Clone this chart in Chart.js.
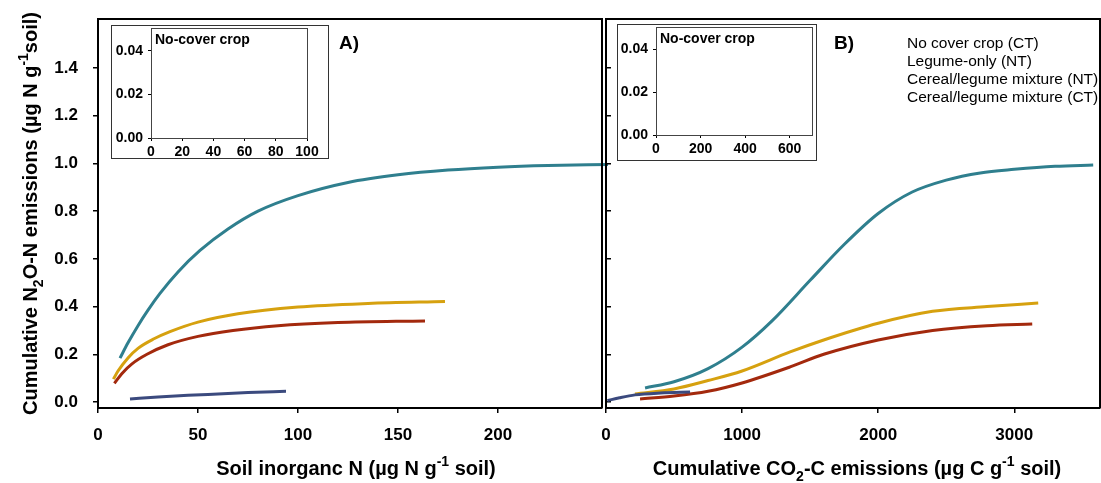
<!DOCTYPE html>
<html>
<head>
  <title>Cumulative N2O-N emissions</title>
  <script src="https://cdn.jsdelivr.net/npm/chart.js"></script>
  <style>
    body { margin: 0; background: #fff; }
    .box { position: absolute; }
    .inset { background: #fff; }
  </style>
</head>
<body>
  <div class="box" style="left:0;top:0;width:612px;height:483px"><canvas id="chartA"></canvas></div>
  <div class="box" style="left:596px;top:0;width:505px;height:483px"><canvas id="chartB"></canvas></div>
  <div class="box inset" style="left:111px;top:25px;width:218px;height:134px"><canvas id="insetA"></canvas></div>
  <div class="box inset" style="left:617px;top:24px;width:200px;height:137px"><canvas id="insetB"></canvas></div>

  <script>
    // tick labels
    const yTicks = [0, 0.2, 0.4, 0.6, 0.8, 1.0, 1.2, 1.4];
    const soilNTicks = [0, 50, 100, 150, 200];
    const co2Ticks = [0, 1000, 2000, 3000];
    const insetYTicks = [0, 0.02, 0.04];
    const insetNTicks = [0, 20, 40, 60, 80, 100];
    const insetCTicks = [0, 200, 400, 600];

    const seriesNames = ['No cover crop (CT)', 'Legume-only (NT)', 'Cereal/legume mixture (NT)', 'Cereal/legume mixture (CT)'];

    // A) N2O vs soil inorganic N
    const noCoverN = [16, 30, 45, 60, 75, 94];
    const noCoverA = [0.013, 0.021, 0.028, 0.034, 0.040, 0.045];
    const legumeN = [11, 15, 20, 25, 31, 40, 51, 65, 80, 100, 125, 150, 175, 200, 225, 255];
    const legumeA = [0.184, 0.248, 0.32, 0.385, 0.455, 0.545, 0.635, 0.725, 0.80, 0.865, 0.92, 0.952, 0.972, 0.984, 0.991, 0.995];
    const mixNtN = [7.7, 10, 15, 20, 28, 36, 50, 70, 100, 135, 173.5];
    const mixNtA = [0.096, 0.13, 0.185, 0.225, 0.265, 0.295, 0.335, 0.37, 0.398, 0.413, 0.421];
    const mixCtN = [8.2, 12, 17, 24.5, 35, 50, 67.5, 90, 120, 163.5];
    const mixCtA = [0.078, 0.12, 0.16, 0.20, 0.24, 0.275, 0.30, 0.32, 0.333, 0.34];

    // B) N2O vs cumulative CO2-C
    const noCoverC = [10, 100, 213, 400, 618];
    const noCoverB = [0.006, 0.018, 0.030, 0.038, 0.042];
    const legumeC = [287, 500, 750, 1000, 1220, 1500, 1750, 2000, 2250, 2500, 2750, 3000, 3300, 3580];
    const legumeB = [0.059, 0.085, 0.14, 0.23, 0.34, 0.51, 0.66, 0.79, 0.88, 0.93, 0.96, 0.975, 0.988, 0.993];
    const mixNtC = [213, 500, 750, 1000, 1353, 1600, 2000, 2400, 2800, 3176];
    const mixNtB = [0.034, 0.055, 0.09, 0.13, 0.21, 0.26, 0.33, 0.38, 0.40, 0.415];
    const mixCtC = [250, 500, 750, 1000, 1353, 1600, 2000, 2400, 2800, 3132];
    const mixCtB = [0.013, 0.025, 0.045, 0.08, 0.147, 0.20, 0.26, 0.30, 0.32, 0.327];

    const colors = ['#3b4a7e', '#2f7f8e', '#d6a10f', '#a3290d'];
    const FONT = 'Arial, "Liberation Sans", sans-serif';

    function pts(xs, ys) {
      return xs.map((x, i) => ({ x: x, y: ys[i] }));
    }

    function line(i, xs, ys) {
      return {
        label: seriesNames[i],
        data: pts(xs, ys),
        borderColor: colors[i],
        borderWidth: 3,
        showLine: true,
        pointRadius: 0,
        cubicInterpolationMode: 'monotone',
        clip: false
      };
    }

    // draws text with sub/superscript pieces, centred on x
    function drawRich(ctx, parts, x, y, size) {
      const small = Math.round(size * 0.72);
      let w = 0;
      parts.forEach(p => {
        ctx.font = 'bold ' + (p[1] ? small : size) + 'px ' + FONT;
        w += ctx.measureText(p[0]).width;
      });
      let cx = x - w / 2;
      ctx.textAlign = 'left';
      ctx.textBaseline = 'alphabetic';
      parts.forEach(p => {
        ctx.font = 'bold ' + (p[1] ? small : size) + 'px ' + FONT;
        let dy = 0;
        if (p[1] === 'sub') dy = size * 0.3;
        if (p[1] === 'sup') dy = -size * 0.45;
        ctx.fillText(p[0], cx, y + dy);
        cx += ctx.measureText(p[0]).width;
      });
    }

    function axes(xMin, xMax, xTicks, yLabels, yTickLen, yWidth, xHeight, size, yDigits) {
      const big = size > 15;
      return {
        x: {
          type: 'linear',
          min: xMin,
          max: xMax,
          afterBuildTicks: s => { s.ticks = xTicks.map(v => ({ value: v })); },
          afterFit: s => { s.height = xHeight; s.paddingLeft = 0; s.paddingRight = 0; },
          border: { display: true, color: '#000', width: big ? 2 : 1 },
          grid: { display: true, drawOnChartArea: false, tickLength: big ? 5 : 3, color: '#000', lineWidth: big ? 1.5 : 1 },
          ticks: {
            color: '#000',
            font: { family: FONT, size: size, weight: 'bold' },
            padding: big ? 12 : 3,
            maxRotation: 0,
            callback: v => String(v)
          }
        },
        y: {
          type: 'linear',
          min: big ? -0.025 : 0,
          max: big ? 1.605 : 0.0505,
          afterBuildTicks: s => { s.ticks = (big ? yTicks : insetYTicks).map(v => ({ value: v })); },
          afterFit: s => { s.width = yWidth; s.paddingTop = 0; s.paddingBottom = 0; },
          border: { display: true, color: '#000', width: big ? 2 : 1 },
          grid: { display: true, drawOnChartArea: false, tickLength: yTickLen, color: '#000', lineWidth: big ? 1.5 : 1 },
          ticks: {
            display: yLabels,
            color: '#000',
            font: { family: FONT, size: size, weight: 'bold' },
            padding: big ? 15 : 5,
            callback: v => v.toFixed(yDigits)
          }
        }
      };
    }

    const framePlugin = {
      id: 'frame',
      afterDraw(chart) {
        const a = chart.chartArea;
        const ctx = chart.ctx;
        ctx.save();
        ctx.strokeStyle = '#000';
        ctx.lineWidth = 2;
        ctx.beginPath();
        ctx.moveTo(a.left, a.top);
        ctx.lineTo(a.right, a.top);
        ctx.lineTo(a.right, a.bottom);
        ctx.stroke();
        ctx.restore();
      }
    };

    const textA = {
      id: 'textA',
      afterDraw(chart) {
        const ctx = chart.ctx;
        const a = chart.chartArea;
        ctx.save();
        ctx.fillStyle = '#000';
        drawRich(ctx, [['Soil inorganc N (\u00b5g N g'], ['-1', 'sup'], [' soil)']], (a.left + a.right) / 2 + 6, 475, 20);
        ctx.translate(37, (a.top + a.bottom) / 2);
        ctx.rotate(-Math.PI / 2);
        drawRich(ctx, [['Cumulative N'], ['2', 'sub'], ['O-N emissions (\u00b5g N g'], ['-1', 'sup'], ['soil)']], 0, 0, 20);
        ctx.restore();
        ctx.save();
        ctx.font = 'bold 19px ' + FONT;
        ctx.textAlign = 'left';
        ctx.textBaseline = 'middle';
        ctx.fillText('A)', 339, 44);
        ctx.restore();
      }
    };

    const textB = {
      id: 'textB',
      afterDraw(chart) {
        const ctx = chart.ctx;
        const a = chart.chartArea;
        ctx.save();
        ctx.fillStyle = '#000';
        drawRich(ctx, [['Cumulative CO'], ['2', 'sub'], ['-C emissions (\u00b5g C g'], ['-1', 'sup'], [' soil)']], (a.left + a.right) / 2 + 4, 475, 20);
        ctx.font = 'bold 19px ' + FONT;
        ctx.textAlign = 'left';
        ctx.textBaseline = 'middle';
        ctx.fillText('B)', 834 - 596, 44);
        ctx.font = '15.5px ' + FONT;
        seriesNames.forEach((n, i) => {
          ctx.fillText(n, 907 - 596, 44 + i * 18);
        });
        ctx.restore();
      }
    };

    const insetPlugin = {
      id: 'insetFrame',
      afterDraw(chart) {
        const ctx = chart.ctx;
        const a = chart.chartArea;
        ctx.save();
        ctx.strokeStyle = '#333';
        ctx.lineWidth = 1;
        ctx.strokeRect(0.5, 0.5, chart.width - 1, chart.height - 1);
        ctx.strokeStyle = '#444';
        ctx.strokeRect(a.left + 0.5, a.top + 0.5, a.right - a.left, a.bottom - a.top);
        ctx.fillStyle = '#000';
        ctx.font = 'bold 14px ' + FONT;
        ctx.textAlign = 'left';
        ctx.textBaseline = 'middle';
        ctx.fillText('No-cover crop', a.left + 4, 15);
        ctx.restore();
      }
    };

    const base = {
      responsive: true,
      maintainAspectRatio: false,
      animation: false,
      events: [],
      plugins: { legend: { display: false }, tooltip: { enabled: false } }
    };

    new Chart(document.getElementById('chartA'), {
      type: 'scatter',
      data: {
        datasets: [
          line(0, noCoverN, noCoverA),
          line(1, legumeN, legumeA),
          line(2, mixNtN, mixNtA),
          line(3, mixCtN, mixCtA)
        ]
      },
      options: Object.assign({}, base, {
        layout: { padding: { top: 19, right: 10, left: 0, bottom: 0 } },
        scales: axes(0, 252, soilNTicks, true, 5, 98, 75, 17, 1)
      }),
      plugins: [framePlugin, textA]
    });

    new Chart(document.getElementById('chartB'), {
      type: 'scatter',
      data: {
        datasets: [
          line(0, noCoverC, noCoverB),
          line(1, legumeC, legumeB),
          line(2, mixNtC, mixNtB),
          line(3, mixCtC, mixCtB)
        ]
      },
      options: Object.assign({}, base, {
        layout: { padding: { top: 19, right: 1, left: 0, bottom: 0 } },
        scales: axes(0, 3630, co2Ticks, false, -5, 10, 75, 17, 1)
      }),
      plugins: [framePlugin, textB]
    });

    new Chart(document.getElementById('insetA'), {
      type: 'scatter',
      data: { datasets: [] },
      options: Object.assign({}, base, {
        layout: { padding: { top: 3, right: 22, left: 0, bottom: 0 } },
        scales: axes(0, 100, insetNTicks, true, 3, 40, 21, 14, 2)
      }),
      plugins: [insetPlugin]
    });

    new Chart(document.getElementById('insetB'), {
      type: 'scatter',
      data: { datasets: [] },
      options: Object.assign({}, base, {
        layout: { padding: { top: 3, right: 5, left: 0, bottom: 0 } },
        scales: axes(0, 700, insetCTicks, true, 3, 39, 26, 14, 2)
      }),
      plugins: [insetPlugin]
    });
  </script>
</body>
</html>
